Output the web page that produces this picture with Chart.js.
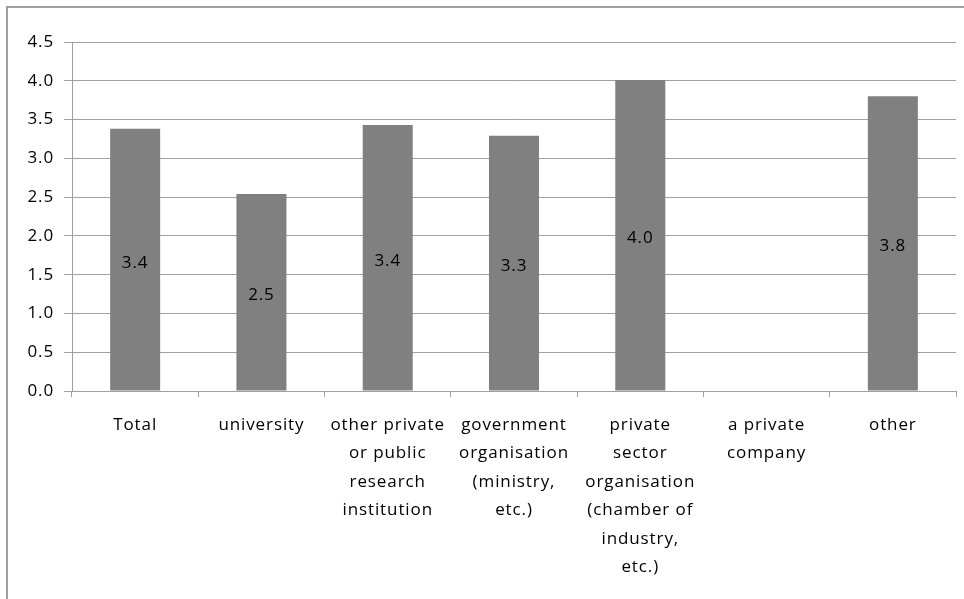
<!DOCTYPE html>
<html lang="en">
<head>
    <meta charset="UTF-8">
    <title>Rating by organisation type</title>
    <script src="https://cdn.jsdelivr.net/npm/chart.js"></script>
    <style>
        html, body {
            margin: 0;
            padding: 0;
            background: #fff;
            overflow: hidden;
        }
        .frame {
            position: absolute;
            left: 6px;
            top: 6px;
            width: 1100px;
            height: 700px;
            border-left: 2px solid #a0a0a0;
            border-top: 2px solid #a0a0a0;
        }
        .wrap {
            position: absolute;
            left: 0;
            top: 0;
            width: 964px;
            height: 599px;
        }
    </style>
</head>
<body>
    <div class="frame"></div>
    <div class="wrap">
        <canvas id="myChart" width="964" height="599"></canvas>
    </div>

    <script>
        // organisation types (wrapped the way they show under the axis)
        const categories = [
            ['Total'],
            ['university'],
            ['other private', 'or public', 'research', 'institution'],
            ['government', 'organisation', '(ministry,', 'etc.)'],
            ['private', 'sector', 'organisation', '(chamber of', 'industry,', 'etc.)'],
            ['a private', 'company'],
            ['other']
        ];
        const scores = [3.38, 2.54, 3.43, 3.29, 4.01, null, 3.80];
        const yTicks = [0, 0.5, 1, 1.5, 2, 2.5, 3, 3.5, 4, 4.5];

        const fontFamily = "'Open Sans', Lato, sans-serif";
        const spacing = '0.9px';

        // writes each value in the middle of its bar
        const barValues = {
            id: 'barValues',
            beforeDraw(chart) {
                chart.ctx.letterSpacing = spacing;
            },
            afterDatasetsDraw(chart) {
                const ctx = chart.ctx;
                const meta = chart.getDatasetMeta(0);
                ctx.save();
                ctx.font = '17px ' + fontFamily;
                ctx.fillStyle = '#000';
                ctx.textAlign = 'center';
                ctx.textBaseline = 'middle';
                meta.data.forEach(function(bar, i) {
                    const v = scores[i];
                    if (v == null) return;
                    ctx.fillText(v.toFixed(1), bar.x, (bar.y + bar.base) / 2 + 3);
                });
                ctx.restore();
            }
        };

        let ctx = document.getElementById('myChart').getContext('2d');
        ctx.letterSpacing = spacing;
        let myChart = new Chart(ctx, {
            type: 'bar',
            data: {
                labels: categories,
                datasets: [{
                    data: scores,
                    backgroundColor: '#808080',
                    borderWidth: 0,
                    barPercentage: 1,
                    categoryPercentage: 0.396
                }]
            },
            options: {
                responsive: false,
                animation: false,
                layout: {
                    padding: { top: 42, right: 8, left: 14, bottom: 0 }
                },
                plugins: {
                    legend: { display: false },
                    tooltip: { enabled: false }
                },
                scales: {
                    x: {
                        offset: true,
                        afterFit(axis) {
                            axis.height = 208;
                        },
                        grid: {
                            offset: true,
                            drawOnChartArea: false,
                            color: '#a0a0a0',
                            tickLength: 6
                        },
                        border: { color: '#a0a0a0' },
                        ticks: {
                            color: '#000',
                            padding: 14,
                            maxRotation: 0,
                            autoSkip: false,
                            font: { family: fontFamily, size: 17, lineHeight: 1.67 }
                        }
                    },
                    y: {
                        min: 0,
                        max: 4.5,
                        afterBuildTicks(axis) {
                            axis.ticks = yTicks.map(v => ({ value: v }));
                        },
                        afterFit(axis) {
                            axis.width = 58;
                        },
                        grid: {
                            color: '#a0a0a0',
                            tickLength: 8
                        },
                        border: { color: '#a0a0a0' },
                        ticks: {
                            color: '#000',
                            padding: 10,
                            callback: v => v.toFixed(1),
                            font: { family: fontFamily, size: 17 }
                        }
                    }
                }
            },
            plugins: [barValues]
        });
    </script>
</body>
</html>
